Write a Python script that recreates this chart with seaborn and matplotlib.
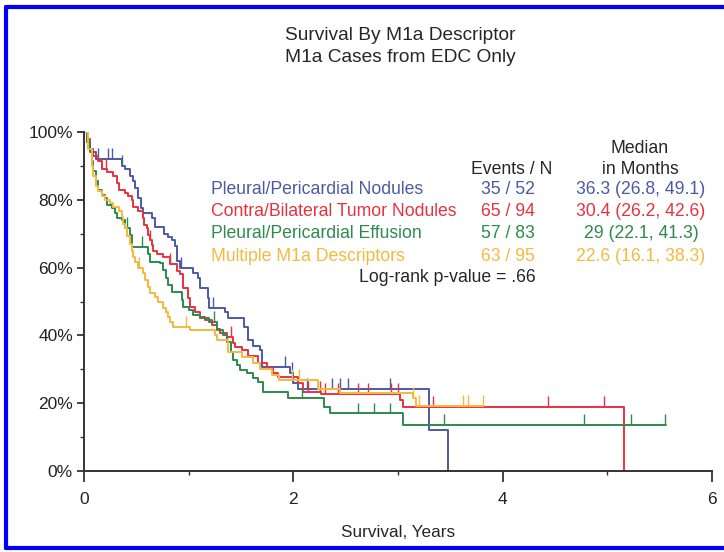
import matplotlib
matplotlib.use('Agg')
import matplotlib.pyplot as plt
import numpy as np
import pandas as pd
import seaborn as sns
from matplotlib.lines import Line2D

# step points: time in years, survival in %
blue_t = [0, 0.03, 0.06, 0.09, 0.11, 0.36, 0.39, 0.44, 0.47, 0.49, 0.52, 0.54, 0.56, 0.65, 0.68,
          0.76, 0.80, 0.84, 0.87, 0.89, 0.92, 1.04, 1.09, 1.11, 1.18, 1.19, 1.35, 1.38, 1.53, 1.57,
          1.61, 1.68, 1.70, 1.97, 2.00, 2.04, 3.30, 3.48]
blue_s = [100, 97, 95, 94, 92, 90, 89, 87, 85.5, 83.5, 80.5, 77.6, 76, 74.5, 72,
          70, 69, 68, 66.5, 62, 60, 58.5, 57, 54, 51, 48, 47, 45, 42.5, 38.6,
          37, 35.7, 30.7, 29, 26, 24.3, 12, 0]
blue_cens = [0.13, 0.23, 0.27, 0.36, 0.93, 1.23, 1.92, 1.99, 2.13, 2.37, 2.45, 2.52, 2.92]

red_t = [0, 0.03, 0.06, 0.09, 0.13, 0.17, 0.22, 0.28, 0.32, 0.33, 0.39, 0.42, 0.46, 0.47, 0.52,
         0.56, 0.57, 0.60, 0.61, 0.63, 0.65, 0.66, 0.70, 0.75, 0.82, 0.89, 0.92, 0.95, 0.99, 1.01,
         1.06, 1.11, 1.16, 1.22, 1.27, 1.30, 1.37, 1.42, 1.44, 1.51, 1.57, 1.66, 1.75, 1.81, 1.85,
         2.04, 2.09, 2.26, 3.02, 3.05, 5.16]
red_s = [100, 98, 95, 93, 91.5, 89, 88.3, 87, 85, 83, 82, 81, 80, 78, 76.7,
         74.6, 72.5, 71.7, 69.6, 68, 66.7, 65, 64, 63, 61, 59, 58, 54, 51, 48.4,
         46.8, 45.4, 44.5, 43, 42, 40.7, 39.5, 37.7, 36.6, 35.7, 34, 31.8, 30.4, 29, 27.7,
         26, 23.3, 22.7, 21, 19, 0]
red_cens = [0.21, 0.63, 0.82, 1.40, 2.14, 2.25, 2.30, 2.43, 2.62, 2.71, 2.93, 3.00, 3.33, 4.43, 4.97]

green_t = [0, 0.03, 0.06, 0.08, 0.09, 0.11, 0.13, 0.17, 0.20, 0.22, 0.27, 0.30, 0.32, 0.36, 0.39,
           0.44, 0.46, 0.61, 0.63, 0.73, 0.75, 0.78, 0.80, 0.84, 0.94, 0.95, 1.00, 1.04, 1.11, 1.19,
           1.27, 1.33, 1.37, 1.40, 1.42, 1.46, 1.49, 1.56, 1.61, 1.66, 1.71, 1.95, 2.29, 2.35, 3.05,
           5.56]
green_s = [100, 97, 94, 91.5, 88.5, 85.5, 83, 81.4, 80.5, 78.5, 77.6, 76, 74.6, 74, 71.7,
           69.6, 66, 64, 61.6, 61.3, 59.3, 57, 54.8, 52.8, 50.4, 48.4, 47.5, 46, 45, 44,
           41.6, 40, 38, 35, 32.7, 31.3, 29.8, 29, 27.4, 26.3, 23.3, 21.5, 19, 17, 13.6,
           13.6]
green_cens = [0.41, 0.55, 1.24, 2.08, 2.62, 2.77, 2.92, 3.44, 4.78, 5.23, 5.55]

orange_t = [0, 0.04, 0.08, 0.09, 0.11, 0.13, 0.17, 0.20, 0.25, 0.28, 0.33, 0.36, 0.37, 0.39, 0.41,
            0.44, 0.46, 0.47, 0.49, 0.52, 0.56, 0.58, 0.61, 0.63, 0.68, 0.71, 0.75, 0.78, 0.80, 0.82,
            0.85, 1.01, 1.25, 1.27, 1.38, 1.51, 1.61, 1.68, 1.80, 1.86, 2.24, 2.45, 3.14, 3.17, 3.81]
orange_s = [100, 95, 90, 87, 84, 82.6, 81, 80, 79, 78, 76.7, 75, 73, 71.7, 69.3,
            67, 65, 63, 61.6, 60, 58.4, 56.3, 54.3, 52.5, 51.3, 49.9, 48, 47, 45.4, 44,
            42.5, 41.6, 40, 38.6, 35, 33.6, 32, 30, 28.3, 26.8, 24.2, 23, 21.5, 19.2, 19.2]
orange_cens = [0.53, 0.97, 1.99, 2.05, 3.14, 3.20, 3.62, 3.67, 3.81]

groups = ['Pleural/Pericardial Nodules', 'Contra/Bilateral Tumor Nodules',
          'Pleural/Pericardial Effusion', 'Multiple M1a Descriptors']
events_n = ['35 / 52', '65 / 94', '57 / 83', '63 / 95']
medians = ['36.3 (26.8, 49.1)', '30.4 (26.2, 42.6)', '29 (22.1, 41.3)', '22.6 (16.1, 38.3)']
colors = ['#4C5AA6', '#E8323F', '#2F8A4C', '#F6B93F']

curves = [(blue_t, blue_s, blue_cens), (red_t, red_s, red_cens),
          (green_t, green_s, green_cens), (orange_t, orange_s, orange_cens)]

sns.set_style('white')
plt.rcParams['font.family'] = ['Liberation Sans', 'DejaVu Sans']

fig = plt.figure(figsize=(7.24, 5.52), dpi=100)
ax = fig.add_axes([84 / 724, 1 - 471 / 552, 628 / 724, 339 / 552])

for (t, s, cens), name, col in zip(curves, groups, colors):
    df = pd.DataFrame({'t': t, 's': s})
    sns.lineplot(data=df, x='t', y='s', drawstyle='steps-post', color=col, lw=1.4,
                 estimator=None, sort=False, ax=ax)
    # censor marks sit on the curve
    idx = np.searchsorted(np.array(t), np.array(cens), side='right') - 1
    base = np.array(s)[idx]
    ax.vlines(cens, base, base + 3.2, color=col, lw=1.0)

ax.set_xlim(0, 6)
ax.set_ylim(0, 100)
ax.set_xticks([0, 2, 4, 6])
ax.set_xticks([1, 3, 5], minor=True)
ax.set_yticks([0, 20, 40, 60, 80, 100])
ax.set_yticks([10, 30, 50, 70, 90], minor=True)
ax.set_yticklabels(['0%', '20%', '40%', '60%', '80%', '100%'])
ax.tick_params(axis='both', which='major', direction='out', length=5, width=1.2,
               labelsize=12.5, colors='#222222', bottom=True, left=True, pad=3)
ax.tick_params(axis='both', which='minor', direction='out', length=3, width=1.0,
               bottom=True, left=True, colors='#333333')
ax.tick_params(axis='x', which='major', length=8, pad=7)
ax.set_xlabel('Survival, Years', fontsize=12.3, labelpad=13)
ax.set_ylabel('')
for side in ['top', 'right']:
    ax.spines[side].set_visible(False)
for side in ['left', 'bottom']:
    ax.spines[side].set_color('#333333')
    ax.spines[side].set_linewidth(1.4)

# titles
fig.text(400 / 724, 1 - 36 / 552, 'Survival By M1a Descriptor', ha='center', va='center', fontsize=13.8)
fig.text(400 / 724, 1 - 58 / 552, 'M1a Cases from EDC Only', ha='center', va='center', fontsize=13.8)

# legend table as coloured text
fs = 12.7
fig.text(640 / 724, 1 - 148 / 552, 'Median', ha='center', va='center', fontsize=fs)
fig.text(640 / 724, 1 - 170 / 552, 'in Months', ha='center', va='center', fontsize=fs)
fig.text(512 / 724, 1 - 170 / 552, 'Events / N', ha='center', va='center', fontsize=fs)
rows_y = [190, 212, 234, 256]
for name, ev, med, col, y in zip(groups, events_n, medians, colors, rows_y):
    fig.text(211 / 724, 1 - y / 552, name, ha='left', va='center', fontsize=fs, color=col)
    fig.text(508 / 724, 1 - y / 552, ev, ha='center', va='center', fontsize=fs, color=col)
    fig.text(641 / 724, 1 - y / 552, med, ha='center', va='center', fontsize=fs, color=col)
fig.text(447 / 724, 1 - 278 / 552, 'Log-rank p-value = .66', ha='center', va='center', fontsize=fs)

# blue frame on left, top and bottom
bc = '#0000FF'
fig.add_artist(Line2D([6 / 724, 1.0], [1 - 7 / 552, 1 - 7 / 552], transform=fig.transFigure, color=bc, lw=3))
fig.add_artist(Line2D([6 / 724, 1.0], [1 - 548 / 552, 1 - 548 / 552], transform=fig.transFigure, color=bc, lw=3))
fig.add_artist(Line2D([6 / 724, 6 / 724], [1 - 7 / 552, 1 - 548 / 552], transform=fig.transFigure, color=bc, lw=3))

fig.savefig('out.png', dpi=100)
